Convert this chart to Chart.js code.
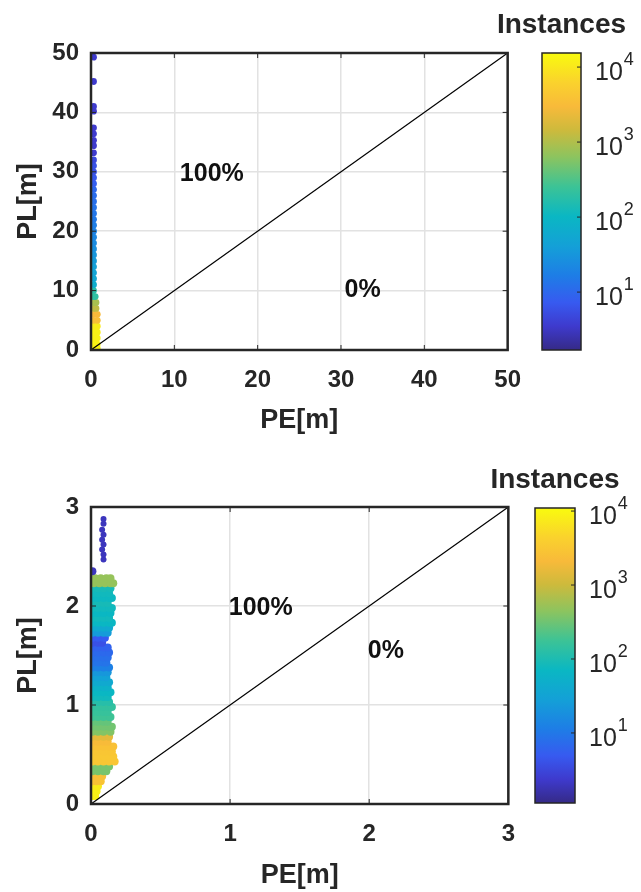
<!DOCTYPE html>
<html>
<head>
<meta charset="utf-8">
<script src="https://cdn.jsdelivr.net/npm/chart.js@4.4.1/dist/chart.umd.min.js"></script>
<style>
  html, body { margin: 0; padding: 0; background: #fff; }
  #page { position: relative; width: 641px; height: 892px; overflow: hidden; }
  canvas { position: absolute; }
</style>
</head>
<body>
<div id="page">
  <canvas id="scTop" width="537" height="440" style="left:0;top:0"></canvas>
  <canvas id="cbTop" width="151" height="440" style="left:490px;top:0"></canvas>
  <canvas id="scBot" width="531" height="440" style="left:0;top:455px"></canvas>
  <canvas id="cbBot" width="151" height="440" style="left:490px;top:455px"></canvas>
</div>
<script>
/* ═══════════════════════════════════════════════════════
   PL vs PE — nuages de points colorés par nombre d'instances
   ═══════════════════════════════════════════════════════ */
'use strict';

// ---- panneau du haut : 0–50 m ----
const TOP_RANGE = [0, 50];
const TOP_STEP = 10;
const TOP_CB_RANGE = [1.69, 15400];
const TOP_ROW_Y = [0.3, 1, 2, 3, 4, 5, 6, 7, 8, 9, 10, 11, 12, 13, 14, 15, 16,
  17, 18, 19, 20, 21, 22, 23, 24, 25, 26, 27, 28, 29, 30, 31, 32,
  33.2, 34.4, 35.3, 36.4, 37.4, 40.2, 41.0, 45.2, 49.3];
const TOP_ROW_X = [[0.3, 0.75], [0.3, 0.75], [0.3, 0.75], [0.3, 0.75], [0.3, 0.75], [0.3, 0.75], [0.3, 0.75],
  [0.3, 0.6], [0.3, 0.6], [0.3, 0.5], [0.3], [0.3], [0.3], [0.3], [0.3], [0.3], [0.3],
  [0.3], [0.3], [0.3], [0.3], [0.3], [0.3], [0.3], [0.3], [0.3], [0.3], [0.3], [0.3], [0.3], [0.3], [0.3], [0.3],
  [0.3], [0.3], [0.3], [0.3], [0.3], [0.3], [0.3], [0.3], [0.3]];
const TOP_ROW_N = [13000, 13000, 12000, 12000, 11000, 3500, 3000, 1200, 900, 200, 180, 70,
  55, 48, 42, 36, 32, 27, 24, 21, 19, 17, 15, 14, 13, 12, 11, 10, 8, 7, 6, 6, 5,
  3.5, 3.5, 3.5, 3.5, 3.5, 3.5, 3.5, 3.5, 3.5];
const TOP_TEXT_X = [14.5, 32.6];
const TOP_TEXT_Y = [29.6, 10];

// ---- panneau du bas : zoom 0–3 m ----
const BOT_RANGE = [0, 3];
const BOT_STEP = 1;
const BOT_CB_RANGE = [1.13, 11000];
const BOT_ROW_Y = [0.08, 0.13, 0.18, 0.23, 0.28, 0.33, 0.38, 0.43, 0.48, 0.53, 0.58, 0.63, 0.68,
  0.73, 0.78, 0.83, 0.88, 0.93, 0.98, 1.03, 1.08, 1.13, 1.18, 1.23, 1.28, 1.33,
  1.38, 1.43, 1.48, 1.53, 1.58, 1.63, 1.68, 1.73, 1.78, 1.83, 1.88, 1.93, 1.98,
  2.03, 2.08, 2.13, 2.18, 2.23, 2.28, 2.35];
const BOT_ROW_X = [
  [0.01, 0.03], [0.01, 0.04], [0.01, 0.04, 0.05],
  [0.01, 0.04, 0.07], [0.01, 0.04, 0.08],
  [0.01, 0.05, 0.09, 0.11], [0.01, 0.05, 0.09, 0.13],
  [0.01, 0.05, 0.09, 0.13, 0.17], [0.01, 0.05, 0.09, 0.13, 0.16], [0.01, 0.05, 0.09, 0.13, 0.15],
  [0.01, 0.05, 0.09, 0.13, 0.16], [0.01, 0.05, 0.09, 0.12], [0.01, 0.05, 0.09, 0.13],
  [0.01, 0.05, 0.09, 0.14], [0.01, 0.05, 0.09, 0.13, 0.15], [0.01, 0.05, 0.09, 0.12],
  [0.01, 0.05, 0.09, 0.13, 0.14], [0.01, 0.05, 0.09, 0.12], [0.01, 0.05, 0.09, 0.13, 0.15],
  [0.01, 0.05, 0.09, 0.13],
  [0.01, 0.05, 0.09, 0.12], [0.01, 0.05, 0.09, 0.13, 0.14], [0.01, 0.05, 0.09, 0.12], [0.01, 0.05, 0.09, 0.13],
  [0.01, 0.05, 0.09, 0.11], [0.01, 0.05, 0.09, 0.12],
  [0.01, 0.05, 0.09, 0.13], [0.01, 0.05, 0.09, 0.11], [0.01, 0.05, 0.09, 0.12], [0.01, 0.05, 0.09, 0.13],
  [0.01, 0.05, 0.09, 0.12], [0.01, 0.05, 0.08], [0.01, 0.05, 0.09, 0.10],
  [0.01, 0.05, 0.09, 0.12], [0.01, 0.05, 0.09, 0.13],
  [0.01, 0.05, 0.09, 0.13, 0.15], [0.01, 0.05, 0.09, 0.13], [0.01, 0.05, 0.09, 0.14],
  [0.01, 0.05, 0.09, 0.13, 0.15], [0.01, 0.05, 0.09, 0.12], [0.01, 0.05, 0.09, 0.13, 0.15],
  [0.01, 0.05, 0.09, 0.13], [0.01, 0.05, 0.09, 0.14],
  [0.02, 0.06, 0.10, 0.14, 0.16], [0.03, 0.07, 0.11, 0.14],
  [0.01]];
const BOT_ROW_N = [9000, 9000, 8000, 2800, 2500, 350, 350, 3000, 3200, 3000, 2600, 2200, 1500,
  400, 330, 280, 180, 160, 150, 120, 80, 70, 55, 40, 30, 22,
  12, 9, 8, 7, 6, 4, 5, 25, 40, 70, 80, 70, 80,
  90, 75, 80, 90, 500, 500, 2];
const BOT_SPARSE_X = [0.09, 0.09, 0.08, 0.09, 0.08, 0.09, 0.08, 0.09, 0.09];
const BOT_SPARSE_Y = [2.47, 2.52, 2.57, 2.62, 2.67, 2.72, 2.77, 2.83, 2.88];
const BOT_SPARSE_N = [2, 2, 2, 2, 2, 2, 2, 2, 2];
const BOT_TEXT_X = [1.22, 2.12];
const BOT_TEXT_Y = [1.98, 1.54];

const ZONE_TEXT = ['100%', '0%'];
const CB_TICKS = [10, 100, 1000, 10000];
const CB_TITLE = 'Instances';

// ---- styles ----
const FONT = '"Liberation Sans", Arial, Helvetica, sans-serif';
const INK = '#262626';
const GRID = '#e2e2e2';
const PARULA = [
  [0.00, [53, 42, 135]],
  [0.08, [62, 58, 205]],
  [0.16, [55, 90, 240]],
  [0.25, [30, 125, 230]],
  [0.35, [20, 160, 215]],
  [0.45, [10, 183, 195]],
  [0.55, [60, 195, 150]],
  [0.65, [140, 196, 95]],
  [0.74, [205, 186, 60]],
  [0.82, [248, 186, 58]],
  [0.90, [250, 210, 45]],
  [1.00, [249, 251, 14]],
];

function parula(t) {
  t = Math.min(1, Math.max(0, t));
  for (let i = 1; i < PARULA.length; i++) {
    const [t1, c1] = PARULA[i];
    const [t0, c0] = PARULA[i - 1];
    if (t <= t1) {
      const f = (t - t0) / (t1 - t0);
      const c = c0.map((v, k) => Math.round(v + (c1[k] - v) * f));
      return `rgb(${c[0]},${c[1]},${c[2]})`;
    }
  }
  return 'rgb(249,251,14)';
}

function countColor(n, range) {
  const lo = Math.log10(range[0]), hi = Math.log10(range[1]);
  return parula((Math.log10(n) - lo) / (hi - lo));
}

// aplatit les rangées en points {x, y} + couleurs
function rowsToDataset(rowY, rowX, rowN, range, radius) {
  const data = [], colors = [];
  rowY.forEach((y, i) => rowX[i].forEach(x => {
    data.push({ x, y });
    colors.push(countColor(rowN[i], range));
  }));
  return {
    data, showLine: false, order: 1,
    pointRadius: radius, pointBorderWidth: 0,
    pointBackgroundColor: colors, pointBorderColor: colors,
  };
}

// cadre noir + petites graduations intérieures + textes 100% / 0%
const framePlugin = {
  id: 'frame',
  afterDatasetsDraw(chart, args, opts) {
    const { ctx, chartArea: a, scales: { x, y } } = chart;
    ctx.save();
    ctx.strokeStyle = INK;
    ctx.lineWidth = 1;
    ctx.beginPath();
    x.ticks.forEach(t => {
      const px = x.getPixelForValue(t.value);
      ctx.moveTo(px, a.bottom); ctx.lineTo(px, a.bottom - 5);
      ctx.moveTo(px, a.top); ctx.lineTo(px, a.top + 5);
    });
    y.ticks.forEach(t => {
      const py = y.getPixelForValue(t.value);
      ctx.moveTo(a.left, py); ctx.lineTo(a.left + 5, py);
      ctx.moveTo(a.right, py); ctx.lineTo(a.right - 5, py);
    });
    ctx.stroke();
    ctx.lineWidth = 2.5;
    ctx.strokeRect(a.left, a.top, a.width, a.height);

    ctx.fillStyle = '#111';
    ctx.font = `bold 25px ${FONT}`;
    ctx.textAlign = 'center';
    ctx.textBaseline = 'middle';
    ZONE_TEXT.forEach((txt, i) => {
      ctx.fillText(txt, x.getPixelForValue(opts.tx[i]), y.getPixelForValue(opts.ty[i]));
    });
    ctx.restore();
  },
};

// dégradé parula + graduations 10^k + titre
const colorbarPlugin = {
  id: 'colorbar',
  beforeDatasetsDraw(chart) {
    const { ctx, chartArea: a, scales: { y } } = chart;
    ctx.save();
    const g = ctx.createLinearGradient(0, a.bottom, 0, a.top);
    PARULA.forEach(([t, c]) => g.addColorStop(t, `rgb(${c[0]},${c[1]},${c[2]})`));
    ctx.fillStyle = g;
    ctx.fillRect(a.left, a.top, a.width, a.height);
    ctx.strokeStyle = INK;
    ctx.lineWidth = 1.5;
    ctx.strokeRect(a.left, a.top, a.width, a.height);

    ctx.fillStyle = INK;
    ctx.textAlign = 'left';
    ctx.textBaseline = 'middle';
    CB_TICKS.forEach(v => {
      const py = y.getPixelForValue(v);
      ctx.beginPath();
      ctx.moveTo(a.right, py); ctx.lineTo(a.right - 4, py);
      ctx.lineWidth = 1;
      ctx.stroke();
      const lx = a.right + 14;
      ctx.font = `25px ${FONT}`;
      ctx.fillText('10', lx, py + 6);
      const w = ctx.measureText('10').width;
      ctx.font = `18px ${FONT}`;
      ctx.fillText(String(Math.round(Math.log10(v))), lx + w + 1, py - 7);
    });

    ctx.font = `bold 28px ${FONT}`;
    ctx.textAlign = 'center';
    ctx.fillText(CB_TITLE, (a.left + a.right) / 2, 25);
    ctx.restore();
  },
};

function axisOptions(range, step, title, isX, size, titlePad) {
  return {
    type: 'linear',
    min: range[0], max: range[1],
    ticks: {
      stepSize: step,
      color: INK,
      padding: isX ? 16 : 12,
      font: { family: FONT, size: 24, weight: 'bold' },
    },
    grid: { color: GRID, lineWidth: 1.5, drawTicks: false },
    border: { display: false },
    title: {
      display: true, text: title, color: INK,
      font: { family: FONT, size: 27, weight: 'bold' },
      padding: titlePad,
    },
    afterFit: s => { if (isX) s.height = size; else s.width = size; },
  };
}

function makeScatter(id, dsList, range, step, top, tx, ty) {
  const ctx = document.getElementById(id).getContext('2d');
  const diag = {
    data: [{ x: range[0], y: range[0] }, { x: range[1], y: range[1] }],
    showLine: true, borderColor: '#000', borderWidth: 1.2,
    pointRadius: 0, order: 0,
  };
  return new Chart(ctx, {
    type: 'scatter',
    data: { datasets: [...dsList, diag] },
    options: {
      responsive: false,
      animation: false,
      events: [],
      layout: { padding: { top, right: 14, left: 0, bottom: 0 } },
      plugins: {
        legend: { display: false },
        tooltip: { enabled: false },
        frame: { tx, ty },
      },
      scales: {
        x: axisOptions(range, step, 'PE[m]', true, 440 - top - 297, { top: 0, bottom: 3 }),
        y: axisOptions(range, step, 'PL[m]', false, 91, { top: 12, bottom: 0 }),
      },
    },
    plugins: [framePlugin],
  });
}

function makeColorbar(id, range, left, barW, bottomPad) {
  const ctx = document.getElementById(id).getContext('2d');
  return new Chart(ctx, {
    type: 'scatter',
    data: { datasets: [] },
    options: {
      responsive: false,
      animation: false,
      events: [],
      layout: { padding: { top: 53, left, right: 0, bottom: bottomPad } },
      plugins: { legend: { display: false }, tooltip: { enabled: false } },
      scales: {
        x: { display: false, min: 0, max: 1 },
        y: {
          type: 'logarithmic', position: 'right',
          min: range[0], max: range[1],
          ticks: { display: false },
          grid: { display: false },
          border: { display: false },
          afterFit: s => { s.width = 151 - left - barW; },
        },
      },
    },
    plugins: [colorbarPlugin],
  });
}

makeScatter('scTop',
  [rowsToDataset(TOP_ROW_Y, TOP_ROW_X, TOP_ROW_N, TOP_CB_RANGE, 3.4)],
  TOP_RANGE, TOP_STEP, 53, TOP_TEXT_X, TOP_TEXT_Y);

makeScatter('scBot',
  [
    rowsToDataset(BOT_ROW_Y, BOT_ROW_X, BOT_ROW_N, BOT_CB_RANGE, 4),
    rowsToDataset(BOT_SPARSE_Y, BOT_SPARSE_X.map(x => [x]), BOT_SPARSE_N, BOT_CB_RANGE, 3),
  ],
  BOT_RANGE, BOT_STEP, 52, BOT_TEXT_X, BOT_TEXT_Y);

makeColorbar('cbTop', TOP_CB_RANGE, 52, 39, 90);
makeColorbar('cbBot', BOT_CB_RANGE, 45, 40, 92);
</script>
</body>
</html>
